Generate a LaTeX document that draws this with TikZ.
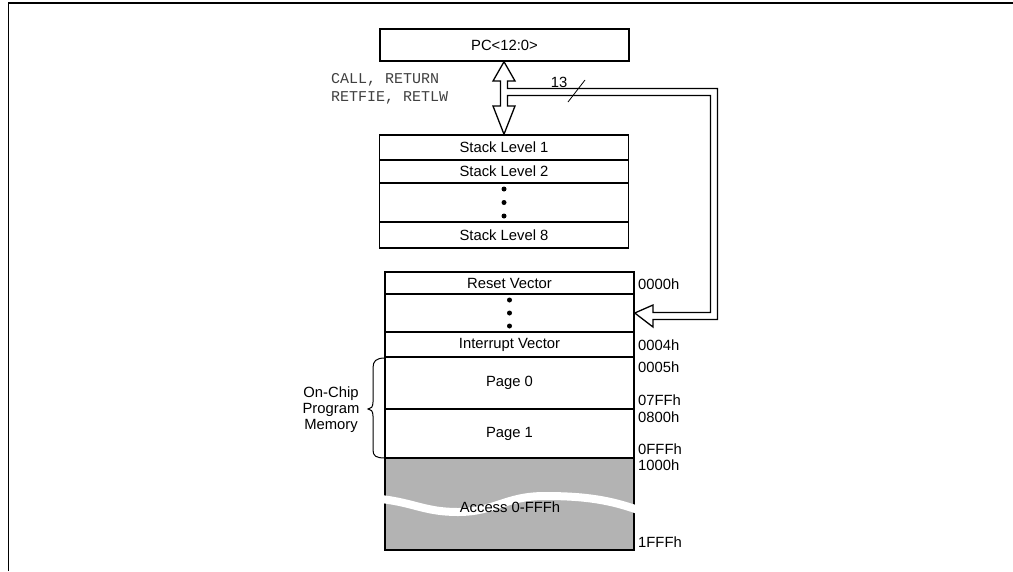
\documentclass[tikz,border=0pt]{standalone}
\usepackage{fontspec}
\setmainfont{Liberation Sans}
\setmonofont{Liberation Mono}
\usetikzlibrary{calc}
\begin{document}
\begin{tikzpicture}[x=1pt,y=-1pt,
  every node/.style={font=\fontsize{14.8}{16}\selectfont},
  cell/.style={draw, line width=1.5pt, minimum width=249pt, inner sep=0pt, anchor=center},
  addr/.style={anchor=west, inner sep=0pt},
  dotmark/.style={circle, fill=black, inner sep=0pt, minimum size=5pt},
  bus/.style={draw, line width=1.3pt, fill=white, line join=miter},
  code/.style={anchor=west, inner sep=0pt, text=black!75, font=\ttfamily\fontsize{15}{16}\selectfont}]
\useasboundingbox (0,0) rectangle (1013,571);
% frame
\draw[line width=1.7pt] (8.5,571) -- (8.5,3) -- (1013,3);

% PC
\node[cell, minimum height=32pt] (pc) at (504.5,45) {PC<12:0>};

% stack
\node[cell, minimum height=25pt] (s1) at (504,147.5) {Stack Level 1};
\node[cell, minimum height=23pt] (s2) at (504,171.5) {Stack Level 2};
\node[cell, minimum height=39pt] (sd) at (504,202.5) {};
\node[cell, minimum height=26pt] (s8) at (504,235) {Stack Level 8};
\node[dotmark] (sda) at (504,189) {};
\node[dotmark] (sdb) at (504,202.5) {};
\node[dotmark] (sdc) at (504,216) {};

% program memory
\node[cell, minimum height=22pt] (rv) at (509.5,283) {Reset Vector};
\node[cell, minimum height=38pt] (md) at (509.5,313) {};
\node[dotmark] (mda) at (509.5,300) {};
\node[dotmark] (mdb) at (509.5,313) {};
\node[dotmark] (mdc) at (509.5,326) {};
\node[cell, minimum height=25pt] (iv) at (509.5,344.5) {Interrupt Vector};
\node[cell, minimum height=52pt] (p0) at (509.5,383) {Page 0};
\node[cell, minimum height=49pt] (p1) at (509.5,433.5) {Page 1};
\node[cell, minimum height=92pt, fill={rgb,255:red,179;green,179;blue,179}] (acc) at (509.5,504) {};
\draw[white, line width=8pt]
  (381,499) .. controls (415,503) and (425,512) .. (458,512)
  .. controls (495,512) and (505,496) .. (545,496)
  .. controls (585,496) and (610,500) .. (638,510);
\node (acct) at (510,507) {Access 0-FFFh};

% addresses
\node[addr] (a0) at (638,284) {0000h};
\node[addr] (a4) at (638,345) {0004h};
\node[addr] (a5) at (638,367) {0005h};
\node[addr] (a7) at (638,400) {07FFh};
\node[addr] (a8) at (638,417) {0800h};
\node[addr] (af) at (638,449) {0FFFh};
\node[addr] (a10) at (638,465) {1000h};
\node[addr] (a1f) at (638,542) {1FFFh};

% brace and label
\draw[line width=1pt]
  (385,358) .. controls (376,358) and (373,361) .. (373,368)
  -- (373,402) .. controls (373,407) and (371,409) .. (368,409)
  .. controls (371,409) and (373,411) .. (373,416)
  -- (373,450) .. controls (373,456) and (376,458) .. (385,458);
\node[align=center] (ocpm) at (331,410) {On-Chip\\Program\\Memory};

% instruction labels
\node[code] (c1) at (331,80) {CALL, RETURN};
\node[code] (c2) at (331,98) {RETFIE, RETLW};

% hollow bus / arrows
\draw[bus]
  (pc.south -| 504,0) -- (515,81) -- (507.5,81) -- (507.5,88.5)
  -- (717.5,88.5) -- (717.5,319.5) -- (653,319.5) -- (653,327)
  -- (md.east) -- (653,305) -- (653,312.5) -- (710.5,312.5)
  -- (710.5,95.5) -- (507.5,95.5) -- (507.5,106) -- (515,106)
  -- (s1.north -| 504,0) -- (493,106) -- (500.5,106) -- (500.5,81)
  -- (493,81) -- cycle;

% bus width marker
\draw[line width=0.8pt] (568,102) -- (585,80);
\node (n13) at (559,82) {13};
\end{tikzpicture}
\end{document}
